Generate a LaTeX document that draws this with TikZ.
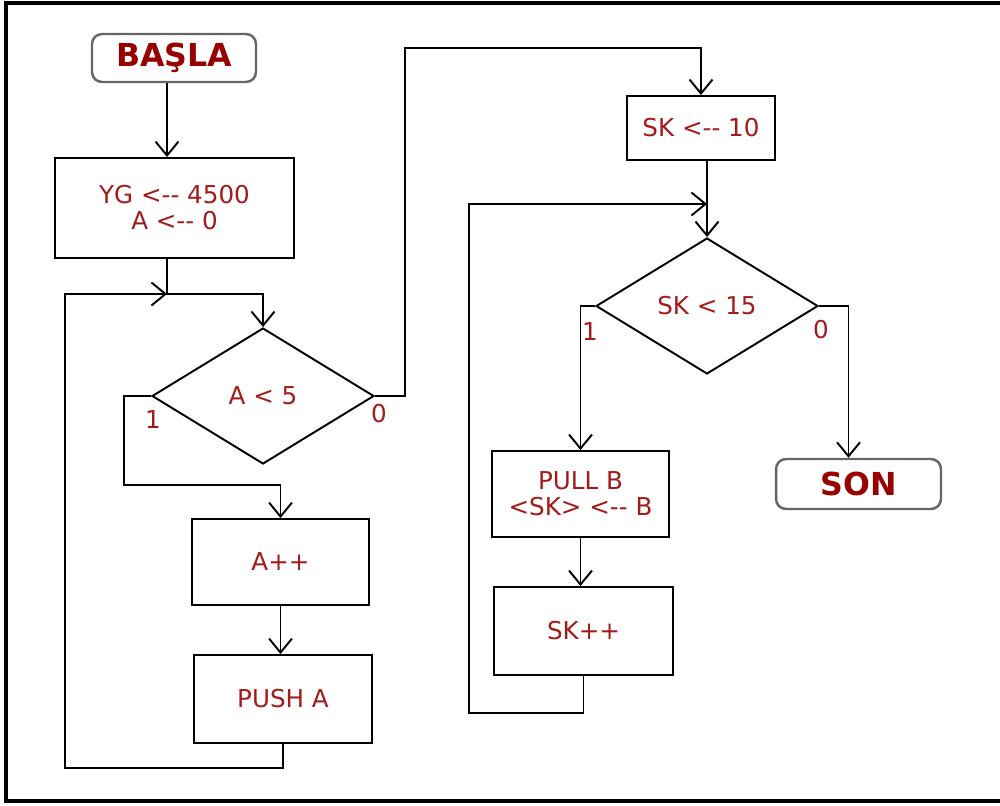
\documentclass[tikz,border=0pt]{standalone}
\usepackage{fontspec}
\setmainfont{DejaVu Sans}
\usetikzlibrary{shapes.geometric,arrows.meta}
\definecolor{txtred}{HTML}{A31A1A}
\definecolor{boldred}{HTML}{990000}
\tikzset{>={Straight Barb[length=2.8mm,width=4.6mm]}}
\tikzset{
  line/.style = {line width=1.1pt},
  flow/.style = {draw, line width=1.1pt, text=txtred, align=center, inner sep=0pt,
    font=\fontsize{14}{14.8}\selectfont},
  process/.style = {flow, rectangle},
  decision/.style = {flow, diamond, aspect=1.63, minimum width=4.44cm, minimum height=2.72cm},
  terminal/.style = {draw=black!60, line width=1.4pt, rounded corners=2mm, text=boldred,
    font=\fontsize{18}{20}\selectfont\bfseries, inner sep=0pt},
  lbl/.style = {text=txtred, inner sep=0pt, font=\fontsize{14}{14.8}\selectfont}
}

\begin{document}
\begin{tikzpicture}[x=0.02cm,y=-0.02cm]
  \useasboundingbox (0,0) rectangle (1000,805);
  \draw[line width=2pt] (1005,3) -| (6,801) -- (1005,801);

  % left column
  \node[terminal, minimum width=3.28cm, minimum height=0.96cm] (start) at (174,58) {BAŞLA};
  \node[process, minimum width=4.78cm, minimum height=2cm] (init) at (174.5,208) {YG <-{}- 4500\\A <-{}- 0};
  \node[decision] (d1) at (263,396) {A < 5};
  \node[process, minimum width=3.54cm, minimum height=1.72cm] (inc) at (280.5,562) {A++};
  \node[process, minimum width=3.56cm, minimum height=1.76cm] (push) at (283,699) {PUSH A};

  % right column
  \node[process, minimum width=2.96cm, minimum height=1.28cm] (sk) at (701,128) {SK <-{}- 10};
  \node[decision] (d2) at (707,306) {SK < 15};
  \node[process, minimum width=3.54cm, minimum height=1.72cm] (pull) at (580.5,494) {PULL B\\<SK> <-{}- B};
  \node[process, minimum width=3.58cm, minimum height=1.76cm] (skinc) at (583.5,631) {SK++};
  \node[terminal, minimum width=3.3cm, minimum height=1cm] (stop) at (858.5,484) {SON};

  % branch labels
  \node[lbl] (d1yes) at (153,420) {1};
  \node[lbl] (d1no) at (379,414) {0};
  \node[lbl] (d2yes) at (590,332) {1};
  \node[lbl] (d2no) at (821,330) {0};

  % turning points
  \coordinate (j1) at (167,294);
  \coordinate (j2) at (707,204);
  \coordinate (loopA) at (65,768);
  \coordinate (loopB) at (469,713);
  \coordinate (yesA) at (124,485);
  \coordinate (noA) at (405,48);

  % connectors
  \draw[line,->] (start.south -| j1) -- (init.north -| j1);
  \draw[line,->] (init.south -| j1) -- (j1) -| (d1.north);
  \draw[line,->] (push.south) |- (loopA) |- (j1);
  \draw[line,->] (d1.west) -| (yesA) -| (inc.north);
  \draw[line,->] (inc.south) -- (inc.south |- push.north);
  \draw[line,->] (d1.east) -| (noA) -| (sk.north);
  \draw[line,->] (j2 |- sk.south) -- (d2.north);
  \draw[line,->] (skinc.south) |- (loopB) |- (j2);
  \draw[line,->] (d2.west) -| (pull.north);
  \draw[line,->] (d2.east) -| ([xshift=-0.2cm]stop.north);
  \draw[line,->] (pull.south) -- (pull.south |- skinc.north);
\end{tikzpicture}
\end{document}
